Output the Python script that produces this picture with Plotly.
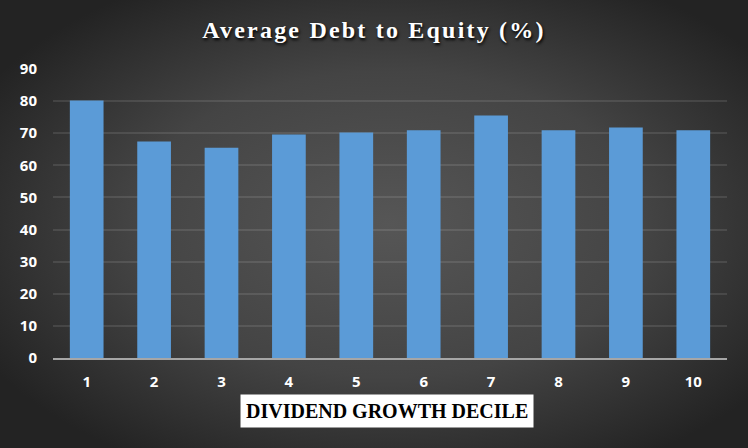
import base64
import plotly.graph_objects as go

deciles = ["1", "2", "3", "4", "5", "6", "7", "8", "9", "10"]
debt_to_equity = [80.2, 67.4, 65.5, 69.6, 70.2, 70.9, 75.5, 70.9, 71.8, 70.9]
y_ticks = [0, 10, 20, 30, 40, 50, 60, 70, 80, 90]

W, H = 748, 448
L, R, T, B = 53, 21, 69, 90
pw, ph = W - L - R, H - T - B

svg = (
    '<svg xmlns="http://www.w3.org/2000/svg" width="748" height="448" '
    'preserveAspectRatio="none" viewBox="0 0 748 448">'
    '<defs><radialGradient id="g" cx="52%" cy="50%" r="62%">'
    '<stop offset="0" stop-color="#565656"/>'
    '<stop offset="0.55" stop-color="#444444"/>'
    '<stop offset="1" stop-color="#232323"/>'
    '</radialGradient></defs>'
    '<rect width="748" height="448" fill="url(#g)"/></svg>'
)
bg_uri = "data:image/svg+xml;base64," + base64.b64encode(svg.encode()).decode()

fig = go.Figure(
    go.Bar(
        x=deciles,
        y=debt_to_equity,
        width=0.5,
        marker=dict(color="#5b9bd7", line=dict(width=0)),
    )
)

fig.update_layout(
    width=W,
    height=H,
    margin=dict(l=L, r=R, t=T, b=B),
    paper_bgcolor="#333333",
    plot_bgcolor="rgba(0,0,0,0)",
    showlegend=False,
    title=dict(
        text="Average Debt to Equity (%)",
        x=0.5,
        xanchor="center",
        y=1 - 30 / H,
        yanchor="middle",
        font=dict(family="Liberation Serif", size=24, color="white",
                  weight="bold", shadow="1px 2px 3px #000000"),
    ),
    images=[dict(
        source=bg_uri,
        xref="paper", yref="paper",
        x=-L / pw, y=1 + T / ph,
        sizex=W / pw, sizey=H / ph,
        sizing="stretch",
        xanchor="left", yanchor="top",
        layer="below",
    )],
    annotations=[dict(
        text="<b>DIVIDEND GROWTH DECILE</b>",
        xref="paper", yref="paper",
        x=(387 - L) / pw, y=-(411 - (T + ph)) / ph,
        xanchor="center", yanchor="middle",
        showarrow=False,
        bgcolor="white",
        borderpad=5,
        font=dict(family="Liberation Serif", size=20, color="black"),
    )],
)

fig.update_xaxes(
    type="category",
    showgrid=False,
    showline=True,
    linecolor="#a6a6a6",
    linewidth=1.5,
    ticks="",
    ticklabelstandoff=9,
    tickfont=dict(family="Open Sans", size=15, color="white", weight="bold"),
)
fig.update_yaxes(
    range=[0, 90],
    tickvals=y_ticks,
    showgrid=True,
    gridcolor="rgba(255,255,255,0.10)",
    gridwidth=1.5,
    zeroline=False,
    showline=False,
    ticks="",
    ticklabelstandoff=15,
    tickfont=dict(family="Open Sans", size=15, color="white", weight="bold"),
)

post = """
document.body.style.margin = '0';
document.body.style.padding = '0';
var t = document.querySelector('.gtitle');
if (t) { t.style.letterSpacing = '2.2px'; }
"""

fig.write_html("out.html", post_script=post, config={"displayModeBar": False})
